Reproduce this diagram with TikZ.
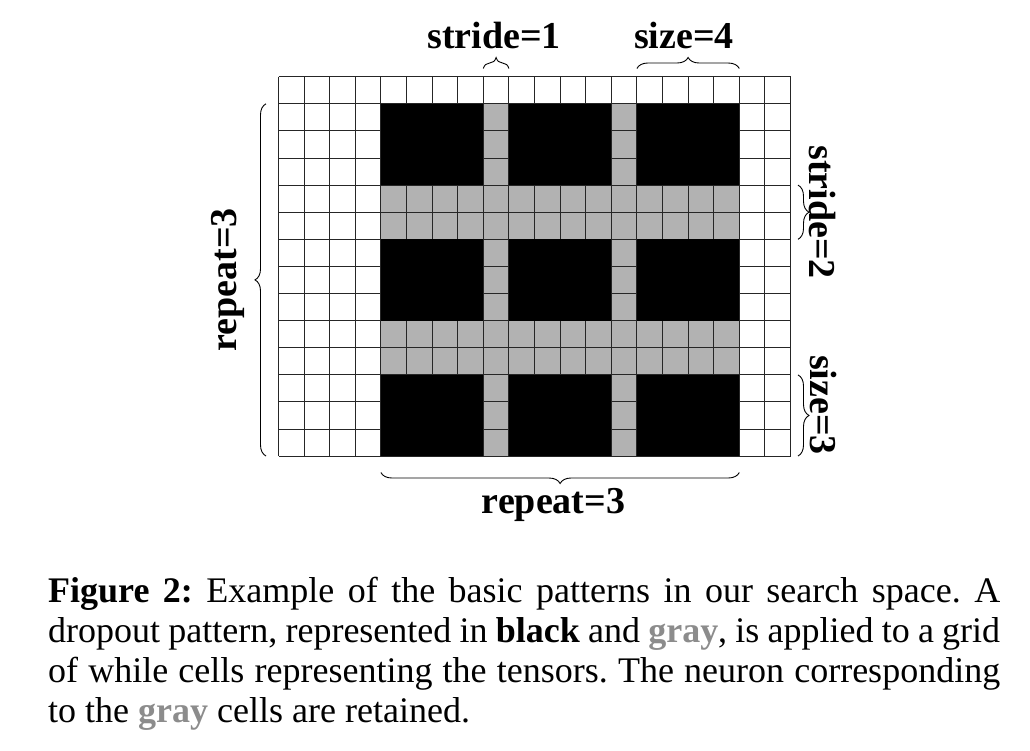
\documentclass[tikz,border=0pt]{standalone}
\usepackage{fontspec}
\setmainfont{Liberation Serif}
\usetikzlibrary{decorations.pathreplacing}
\definecolor{capgray}{gray}{0.55}
\frenchspacing
\begin{document}
\begin{tikzpicture}[x=1pt,y=-1pt]
    \tikzset{bracelabel/.style={font=\fontsize{38}{40}\selectfont\bfseries,inner sep=0pt,anchor=base},
             curly/.style={decorate,decoration={brace,amplitude=11pt},line width=0.9pt},
             gridline/.style={line width=1pt,draw=black!85},
             cellgray/.style={fill=black!30}}
    \useasboundingbox (0,0) rectangle (1030,750);
    \begin{scope}[xshift=278.5pt,yshift=-76.7pt,x=25.6pt,y=-27.1pt]
        \fill[cellgray] (4,1) rectangle (18,14);
        \foreach \c in {0,...,20} \draw[gridline] (\c,0) -- (\c,14);
        \foreach \r in {0,...,14} \draw[gridline] (0,\r) -- (20,\r);
        \foreach \r in {1,6,11} \foreach \c in {4,9,14} \fill (\c,\r) rectangle ++(4,3);
    \end{scope}
    \coordinate (s1l) at (483.3,68.5);  \coordinate (s1r) at (508.9,68.5);
    \coordinate (z4l) at (636.9,68.5);  \coordinate (z4r) at (739.3,68.5);
    \coordinate (rbl) at (380.9,472.5); \coordinate (rbr) at (739.3,472.5);
    \coordinate (rlt) at (266,103.8);   \coordinate (rlb) at (266,456);
    \coordinate (s2t) at (798,185.1);   \coordinate (s2b) at (798,239.3);
    \coordinate (z3t) at (798,374.9);   \coordinate (z3b) at (798,456);
    \draw[curly] (s1l) -- (s1r);
    \draw[curly] (z4l) -- (z4r);
    \draw[curly] (rbr) -- (rbl);
    \draw[curly] (rlb) -- (rlt);
    \draw[curly] (s2t) -- (s2b);
    \draw[curly] (z3t) -- (z3b);
    \node[bracelabel] (stride1) at (494.2,48.3) {stride=1};
    \node[bracelabel] (size4) at (684,48.3) {size=4};
    \node[bracelabel] (repeatb) at (553.5,513.3) {repeat=3};
    \node[bracelabel,rotate=90] (repeatl) at (236,280) {repeat=3};
    \node[bracelabel,rotate=-90] (stride2) at (809,212) {stride=2};
    \node[bracelabel,rotate=-90] (size3) at (810,405) {size=3};
    \node[anchor=north west,inner sep=0pt,text width=952pt,align=justify,font=\fontsize{36}{40}\selectfont] (caption) at (48,577)
        {\textbf{Figure 2:} Example of the basic patterns in our search space. A\linebreak
         dropout pattern, represented in \textbf{black} and \textcolor{capgray}{\textbf{gray}}, is applied to a grid\linebreak
         of while cells representing the tensors. The neuron corresponding\linebreak
         to the \textcolor{capgray}{\textbf{gray}} cells are retained.};
\end{tikzpicture}
\end{document}
